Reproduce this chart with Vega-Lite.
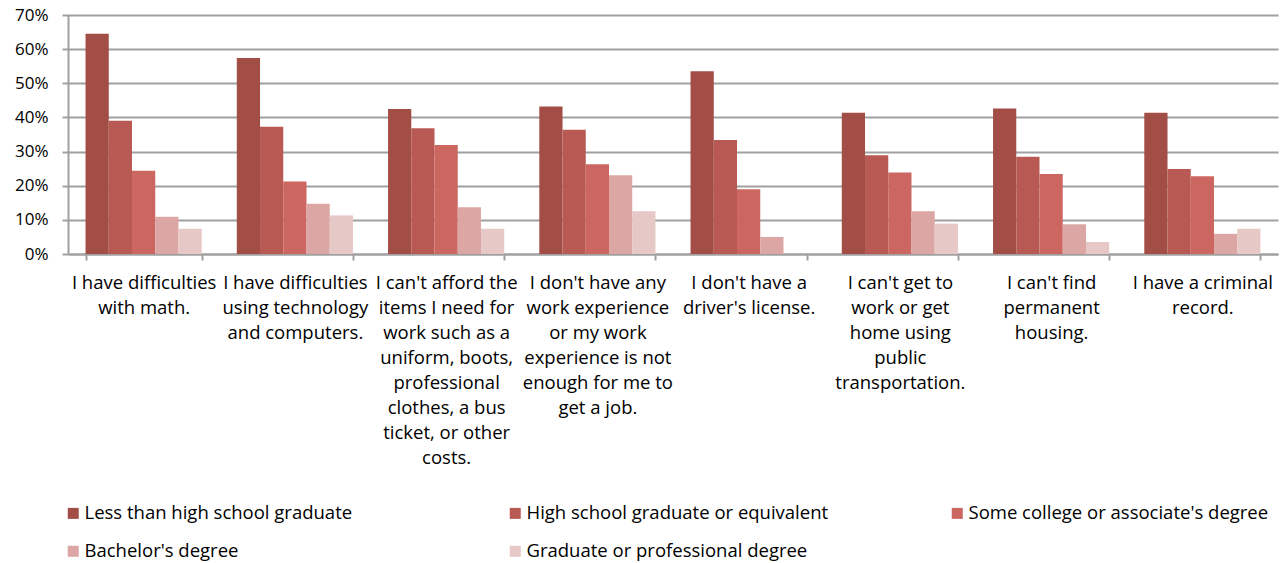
{
  "$schema": "https://vega.github.io/schema/vega-lite/v6.json",
  "width": 1210,
  "height": 239,
  "autosize": {"type": "none"},
  "padding": {"left": 68, "top": 15, "right": 5, "bottom": 309},
  "background": "white",
  "config": {
    "font": "Open Sans",
    "view": {"stroke": null}
  },
  "data": {
    "values": [
      {"barrier": "I have difficulties|with math.", "education": "Less than high school graduate", "share": 0.645},
      {"barrier": "I have difficulties|with math.", "education": "High school graduate or equivalent", "share": 0.39},
      {"barrier": "I have difficulties|with math.", "education": "Some college or associate's degree", "share": 0.244},
      {"barrier": "I have difficulties|with math.", "education": "Bachelor's degree", "share": 0.109},
      {"barrier": "I have difficulties|with math.", "education": "Graduate or professional degree", "share": 0.074},

      {"barrier": "I have difficulties|using technology|and computers.", "education": "Less than high school graduate", "share": 0.574},
      {"barrier": "I have difficulties|using technology|and computers.", "education": "High school graduate or equivalent", "share": 0.373},
      {"barrier": "I have difficulties|using technology|and computers.", "education": "Some college or associate's degree", "share": 0.212},
      {"barrier": "I have difficulties|using technology|and computers.", "education": "Bachelor's degree", "share": 0.147},
      {"barrier": "I have difficulties|using technology|and computers.", "education": "Graduate or professional degree", "share": 0.113},

      {"barrier": "I can't afford the|items I need for|work such as a|uniform, boots,|professional|clothes, a bus|ticket, or other|costs.", "education": "Less than high school graduate", "share": 0.425},
      {"barrier": "I can't afford the|items I need for|work such as a|uniform, boots,|professional|clothes, a bus|ticket, or other|costs.", "education": "High school graduate or equivalent", "share": 0.368},
      {"barrier": "I can't afford the|items I need for|work such as a|uniform, boots,|professional|clothes, a bus|ticket, or other|costs.", "education": "Some college or associate's degree", "share": 0.319},
      {"barrier": "I can't afford the|items I need for|work such as a|uniform, boots,|professional|clothes, a bus|ticket, or other|costs.", "education": "Bachelor's degree", "share": 0.137},
      {"barrier": "I can't afford the|items I need for|work such as a|uniform, boots,|professional|clothes, a bus|ticket, or other|costs.", "education": "Graduate or professional degree", "share": 0.074},

      {"barrier": "I don't have any|work experience|or my work|experience is not|enough for me to|get a job.", "education": "Less than high school graduate", "share": 0.432},
      {"barrier": "I don't have any|work experience|or my work|experience is not|enough for me to|get a job.", "education": "High school graduate or equivalent", "share": 0.364},
      {"barrier": "I don't have any|work experience|or my work|experience is not|enough for me to|get a job.", "education": "Some college or associate's degree", "share": 0.263},
      {"barrier": "I don't have any|work experience|or my work|experience is not|enough for me to|get a job.", "education": "Bachelor's degree", "share": 0.231},
      {"barrier": "I don't have any|work experience|or my work|experience is not|enough for me to|get a job.", "education": "Graduate or professional degree", "share": 0.125},

      {"barrier": "I don't have a|driver's license.", "education": "Less than high school graduate", "share": 0.535},
      {"barrier": "I don't have a|driver's license.", "education": "High school graduate or equivalent", "share": 0.334},
      {"barrier": "I don't have a|driver's license.", "education": "Some college or associate's degree", "share": 0.19},
      {"barrier": "I don't have a|driver's license.", "education": "Bachelor's degree", "share": 0.05},
      {"barrier": "I don't have a|driver's license.", "education": "Graduate or professional degree", "share": 0.0},

      {"barrier": "I can't get to|work or get|home using|public|transportation.", "education": "Less than high school graduate", "share": 0.414},
      {"barrier": "I can't get to|work or get|home using|public|transportation.", "education": "High school graduate or equivalent", "share": 0.289},
      {"barrier": "I can't get to|work or get|home using|public|transportation.", "education": "Some college or associate's degree", "share": 0.239},
      {"barrier": "I can't get to|work or get|home using|public|transportation.", "education": "Bachelor's degree", "share": 0.125},
      {"barrier": "I can't get to|work or get|home using|public|transportation.", "education": "Graduate or professional degree", "share": 0.089},

      {"barrier": "I can't find|permanent|housing.", "education": "Less than high school graduate", "share": 0.426},
      {"barrier": "I can't find|permanent|housing.", "education": "High school graduate or equivalent", "share": 0.285},
      {"barrier": "I can't find|permanent|housing.", "education": "Some college or associate's degree", "share": 0.234},
      {"barrier": "I can't find|permanent|housing.", "education": "Bachelor's degree", "share": 0.087},
      {"barrier": "I can't find|permanent|housing.", "education": "Graduate or professional degree", "share": 0.035},

      {"barrier": "I have a criminal|record.", "education": "Less than high school graduate", "share": 0.414},
      {"barrier": "I have a criminal|record.", "education": "High school graduate or equivalent", "share": 0.249},
      {"barrier": "I have a criminal|record.", "education": "Some college or associate's degree", "share": 0.228},
      {"barrier": "I have a criminal|record.", "education": "Bachelor's degree", "share": 0.059},
      {"barrier": "I have a criminal|record.", "education": "Graduate or professional degree", "share": 0.074}
    ]
  },
  "mark": {"type": "bar"},
  "encoding": {
    "x": {
      "field": "barrier",
      "type": "nominal",
      "sort": null,
      "scale": {"paddingInner": 0.232, "paddingOuter": 0.116},
      "axis": {
        "title": null,
        "labelAngle": 0,
        "labelExpr": "split(datum.label, '|')",
        "labelFontSize": 18.5,
        "labelColor": "#000000",
        "labelLineHeight": 25,
        "labelBaseline": "top",
        "labelPadding": 13,
        "labelLimit": 200,
        "tickBand": "extent",
        "tickSize": 6,
        "tickColor": "#A0A0A0",
        "tickWidth": 2,
        "domainColor": "#A0A0A0",
        "domainWidth": 2
      }
    },
    "xOffset": {
      "field": "education",
      "type": "nominal",
      "sort": ["Less than high school graduate", "High school graduate or equivalent", "Some college or associate's degree", "Bachelor's degree", "Graduate or professional degree"],
      "scale": {"paddingInner": 0, "paddingOuter": 0}
    },
    "y": {
      "field": "share",
      "type": "quantitative",
      "scale": {"domain": [0, 0.7], "nice": false},
      "axis": {
        "title": null,
        "values": [0, 0.1, 0.2, 0.3, 0.4, 0.5, 0.6, 0.7],
        "format": ".0%",
        "labelFontSize": 17,
        "labelColor": "#000000",
        "labelPadding": 14,
        "tickSize": 6,
        "tickColor": "#A0A0A0",
        "tickWidth": 2,
        "domainColor": "#A0A0A0",
        "domainWidth": 2,
        "gridColor": "#A0A0A0",
        "gridWidth": 2
      }
    },
    "color": {
      "field": "education",
      "type": "nominal",
      "sort": ["Less than high school graduate", "High school graduate or equivalent", "Some college or associate's degree", "Bachelor's degree", "Graduate or professional degree"],
      "scale": {
        "domain": ["Less than high school graduate", "High school graduate or equivalent", "Some college or associate's degree", "Bachelor's degree", "Graduate or professional degree"],
        "range": ["#A24D46", "#B85A53", "#CC6660", "#DBA6A3", "#E6C8C6"]
      },
      "legend": {
        "title": null,
        "orient": "none",
        "legendX": -4,
        "legendY": 489,
        "direction": "horizontal",
        "columns": 3,
        "gridAlign": "all",
        "columnPadding": 119,
        "rowPadding": 19,
        "symbolType": "square",
        "symbolSize": 121,
        "symbolStrokeWidth": 0,
        "labelFontSize": 18.5,
        "labelColor": "#000000",
        "labelOffset": 2,
        "labelLimit": 400
      }
    }
  }
}
